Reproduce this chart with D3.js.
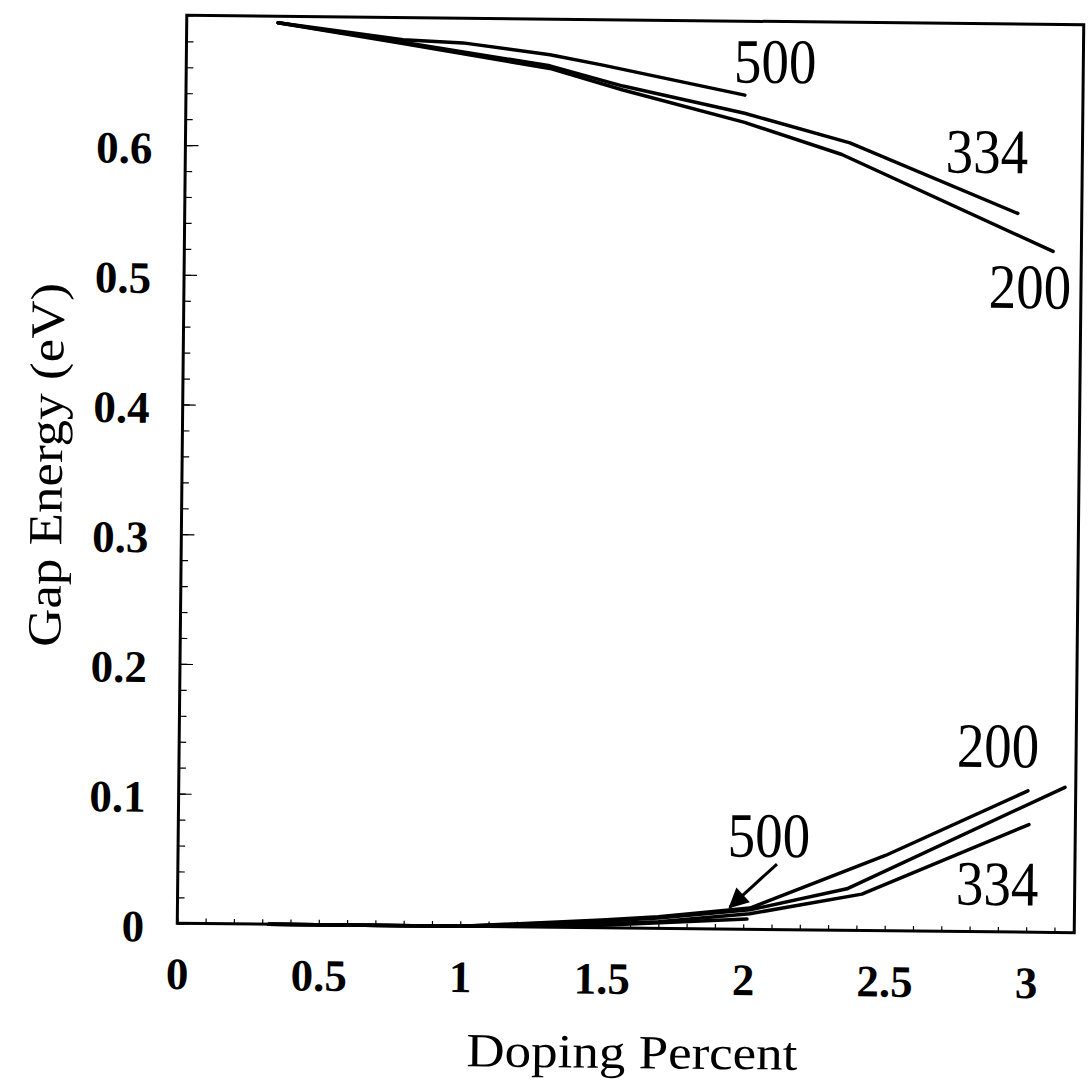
<!DOCTYPE html>
<html>
<head>
<meta charset="utf-8">
<script src="https://cdn.jsdelivr.net/npm/d3@7"></script>
<style>
body { margin: 0; background: #fff; }
svg { display: block; }
text { font-family: "Liberation Serif", "Times New Roman", serif; fill: #000; }
.tick text { font-weight: bold; font-size: 45px; }
.tick line { stroke: #000; stroke-width: 1.2; }
.curve { fill: none; stroke: #000; stroke-width: 3.5; stroke-linejoin: round; stroke-linecap: round; }
</style>
</head>
<body>
<svg id="chart" width="1089" height="1085"></svg>
<script>
var xTicks = [0, 0.5, 1, 1.5, 2, 2.5, 3];
var yTicks = [0, 0.1, 0.2, 0.3, 0.4, 0.5, 0.6];

// upper branch, [doping, gap]
var up500 = [[0.323, 0.695], [0.765, 0.683], [0.977, 0.681], [1.285, 0.6725], [1.472, 0.665], [1.975, 0.643]];
var up334 = [[0.323, 0.695], [0.765, 0.681], [1.285, 0.664], [1.544, 0.649], [1.975, 0.629], [2.348, 0.607], [2.944, 0.554]];
var up200 = [[0.323, 0.695], [0.765, 0.680], [1.285, 0.662], [1.544, 0.646], [1.975, 0.622], [2.320, 0.598], [3.070, 0.525]];

// lower branch
var lo200 = [[0.323, 0], [1.0, 0], [1.5, 0.006], [1.7, 0.009], [2.023, 0.0164], [2.5, 0.058], [3.001, 0.109]];
var loMid = [[0.323, 0], [1.0, 0], [1.5, 0.005], [1.7, 0.008], [2.023, 0.015], [2.365, 0.032], [3.132, 0.112]];
var lo334 = [[0.323, 0], [1.0, 0], [1.5, 0.003], [1.7, 0.005], [2.023, 0.012], [2.418, 0.028], [3.006, 0.083]];
var lo500 = [[0.323, 0], [1.0, 0], [1.5, 0.002], [2.013, 0.008]];

var labelText = ["500", "334", "200", "200", "500", "334"];
var labelAt = [[2.081, 0.6527], [2.833, 0.585], [2.990, 0.481], [2.894, 0.127], [2.088, 0.056], [2.896, 0.0207]];
var arrowFrom = [2.117, 0.0505];
var arrowTo = [1.952, 0.017];

var x = d3.scaleLinear().domain([0, 3.17]).range([182, 1079]);
var y = d3.scaleLinear().domain([0, 0.7]).range([928, 20]);

var svg = d3.select("#chart");
// scanned figure is tilted slightly
var g = svg.append("g").attr("transform", "rotate(0.6,628.5,475)");

// minor ticks
g.append("g")
    .attr("transform", "translate(" + x(0) + ",0)")
    .call(d3.axisLeft(y).tickValues(d3.range(0, 36).map(function (i) { return i * 0.02; })).tickSize(-7).tickFormat(""))
    .call(function (a) { a.select(".domain").remove(); });

g.append("g")
    .attr("transform", "translate(0," + y(0) + ")")
    .call(d3.axisBottom(x).tickValues(d3.range(0, 32).map(function (i) { return i * 0.1; })).tickSize(-5).tickFormat(""))
    .call(function (a) { a.select(".domain").remove(); });

// major ticks + labels
g.append("g")
    .attr("transform", "translate(" + x(0) + ",0)")
    .call(d3.axisLeft(y).tickValues(yTicks).tickSize(-13).tickPadding(33).tickFormat(String))
    .call(function (a) {
        a.select(".domain").remove();
        a.selectAll("text").attr("dy", "0.4em");
    });

g.append("g")
    .attr("transform", "translate(0," + y(0) + ")")
    .call(d3.axisBottom(x).tickValues(xTicks).tickSize(0).tickPadding(34).tickFormat(String))
    .call(function (a) { a.select(".domain").remove(); });

// frame
g.append("rect")
    .attr("x", x(0)).attr("y", y(0.7))
    .attr("width", x(3.17) - x(0)).attr("height", y(0) - y(0.7))
    .attr("fill", "none").attr("stroke", "#000").attr("stroke-width", 3);

var line = d3.line()
    .x(function (d) { return x(d[0]); })
    .y(function (d) { return y(d[1]); });

[up500, up334, up200, lo200, loMid, lo334, lo500].forEach(function (s) {
    g.append("path").attr("class", "curve").attr("d", line(s));
});

// arrow for the lower 500 curve
svg.append("defs").append("marker")
    .attr("id", "head")
    .attr("viewBox", "0 0 10 10")
    .attr("refX", 9).attr("refY", 5)
    .attr("markerUnits", "userSpaceOnUse")
    .attr("markerWidth", 22).attr("markerHeight", 20)
    .attr("orient", "auto")
    .append("path").attr("d", "M0,0 L10,5 L0,10 z").attr("fill", "#000");

g.append("line")
    .attr("x1", x(arrowFrom[0])).attr("y1", y(arrowFrom[1]))
    .attr("x2", x(arrowTo[0])).attr("y2", y(arrowTo[1]))
    .attr("stroke", "#000").attr("stroke-width", 3)
    .attr("marker-end", "url(#head)");

// curve labels
g.selectAll(".clabel")
    .data(labelText)
    .enter().append("text")
    .attr("class", "clabel")
    .attr("transform", function (d, i) {
        return "translate(" + x(labelAt[i][0]) + "," + y(labelAt[i][1]) + ") scale(1,1.15)";
    })
    .attr("text-anchor", "middle")
    .style("font-size", "55px")
    .text(function (d) { return d; });

// axis titles
g.append("text")
    .attr("transform", "translate(638,1068) scale(1,0.9)")
    .attr("text-anchor", "middle")
    .style("font-size", "53px")
    .text("Doping Percent");

g.append("text")
    .attr("transform", "translate(62,471) rotate(-90) scale(1,0.9)")
    .attr("text-anchor", "middle")
    .style("font-size", "53px")
    .text("Gap Energy (eV)");
</script>
</body>
</html>
